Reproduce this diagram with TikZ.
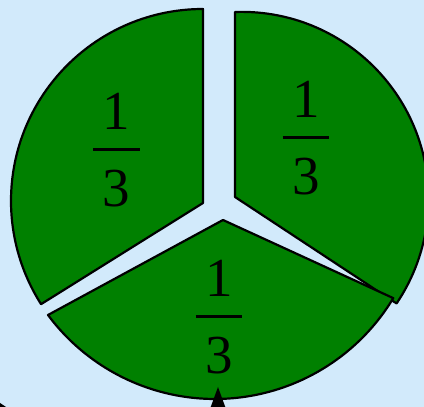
\documentclass[tikz,border=0pt]{standalone}
\usepackage{fontspec}
\setmainfont{Liberation Serif}
\usepackage{tikz}
\usetikzlibrary{positioning}
\definecolor{skypanel}{RGB}{210,234,251}
\definecolor{slicegreen}{RGB}{0,128,0}
\newcommand{\fracstack}[2]{\vbox{\offinterlineskip\halign{\hfil##\hfil\cr #1\cr\noalign{\kern9.5pt}\vrule width 23.5pt height 1.5pt depth 0pt\cr\noalign{\kern9.5pt}#2\cr}}}

\begin{document}
\begin{tikzpicture}[x=0.5pt, y=0.5pt, slice/.style={draw=black, fill=slicegreen, line width=1.1pt, line join=round}, part/.style={inner sep=0pt, font=\fontsize{27.5}{33}\selectfont}]
\useasboundingbox (0,0) rectangle (424,407);
\fill[skypanel] (0,0) rectangle (424,407);
\filldraw[slice] (203,204) -- (203,398) arc[start angle=90, end angle=212.5, radius=192] -- cycle;
\filldraw[slice] (235,210) -- (235,395) arc[start angle=92, end angle=-34, radius=187] -- cycle;
\filldraw[slice] (223,187) -- (48,92) arc[start angle=216.6, end angle=329, radius=208] -- cycle;
\node[part] (fl) at (116.5,257) {\fracstack{1}{3}};
\node[part] (fr) at (306,269) {\fracstack{1}{3}};
\node[part] (fb) at (219,90) {\fracstack{1}{3}};
\fill[black] (218,20) -- (226,-2) -- (210,-2) -- cycle;
\fill[black] (0,0) -- (0,4) -- (6,0) -- cycle;
\end{tikzpicture}
\end{document}
